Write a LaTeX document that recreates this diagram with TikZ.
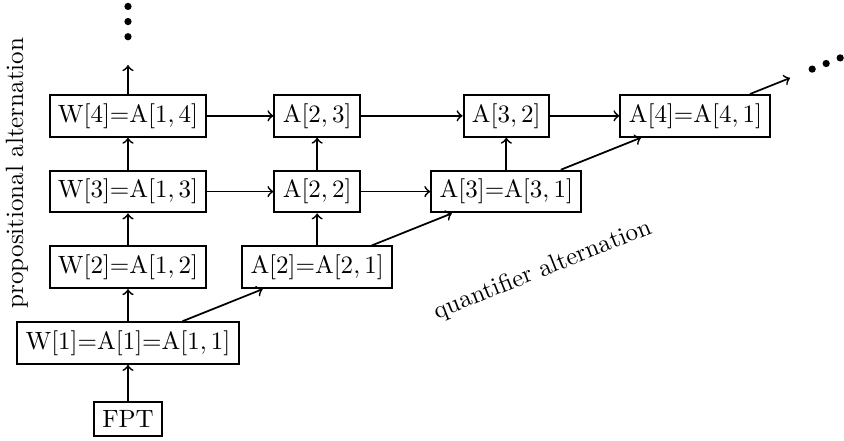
\documentclass[tikz,border=0pt]{standalone}
\usetikzlibrary{positioning}

\begin{document}
\begin{tikzpicture}[x=2.66cm, y=1.065cm,
  cls/.style={draw, line width=0.8pt},
  arr/.style={->, line width=0.7pt}]
\useasboundingbox (-1.8cm,-1.364cm) rectangle (10.069cm,4.824cm);
% W-hierarchy in the first column
\node[cls] (fpt) at (0,-1) {FPT};
\node[cls] (w1) at (0,0) {W[1]=A[1]=A$[1,1]$};
\node[cls] (w2) at (0,1) {W[2]=A$[1,2]$};
\node[cls] (w3) at (0,2) {W[3]=A$[1,3]$};
\node[cls] (w4) at (0,3) {W[4]=A$[1,4]$};
% the A[t,u] classes
\node[cls] (a2) at (1,1) {A[2]=A$[2,1]$};
\node[cls] (a22) at (1,2) {A$[2,2]$};
\node[cls] (a23) at (1,3) {A$[2,3]$};
\node[cls] (a3) at (2,2) {A[3]=A$[3,1]$};
\node[cls] (a32) at (2,3) {A$[3,2]$};
\node[cls] (a4) at (3,3) {A[4]=A$[4,1]$};
\coordinate (up) at (0,3.67);
\coordinate (diag) at (3.5,3.5);
\foreach \a/\b in {fpt/w1, w1/w2, w2/w3, w3/w4, w4/up, a2/a22, a22/a23, a3/a32,
  w3/a22, a22/a3, w4/a23, a23/a32, a32/a4, w1/a2, a2/a3, a3/a4, a4/diag}
  \draw[arr] (\a) -- (\b);
% continuation dots
\foreach \y in {4.045,4.245,4.445} \fill (0,\y) circle (1.45pt);
\foreach \t in {3.617,3.691,3.765} \fill (\t,\t) circle (1.45pt);
% axis labels
\node[rotate=90] (prop) at (-0.587,2.245) {propositional alternation};
\node[rotate=21.8] (quant) at (2.194,0.964) {quantifier alternation};
\end{tikzpicture}
\end{document}
